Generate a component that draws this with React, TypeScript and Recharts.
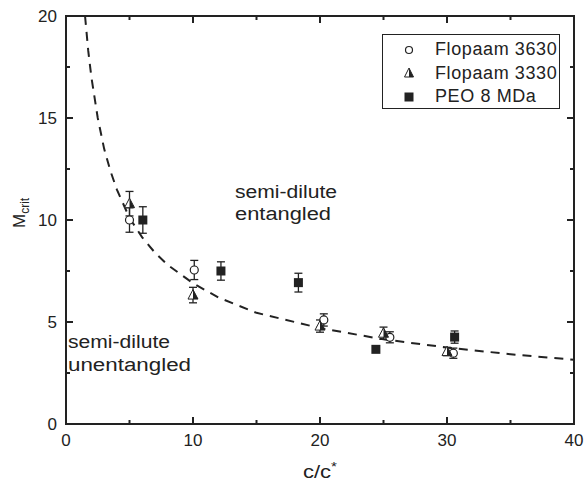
import React from 'react';
import { ComposedChart, Scatter, XAxis, YAxis, ErrorBar } from 'recharts';

const FONT = '"Liberation Sans", Arial, Helvetica, sans-serif';
const INK = '#222';

// dashed power-law fit
const fitX = [1.5, 1.75, 2, 2.5, 3, 3.5, 4, 5, 6, 7, 8, 10, 12, 15, 20, 25, 30, 35, 40];
const fitY = [20, 18.3, 17.0, 15.0, 13.5, 12.4, 11.5, 10.1, 9.15, 8.4, 7.8, 6.9, 6.2, 5.45, 4.7, 4.15, 3.75, 3.42, 3.15];

// Flopaam 3630 (open circles)
const f3630X = [5.0, 10.1, 20.3, 25.5, 30.5];
const f3630Y = [10.0, 7.55, 5.1, 4.25, 3.47];
const f3630Err = [0.6, 0.47, 0.3, 0.27, 0.25];

// Flopaam 3330 (half-filled triangles)
const f3330X = [5.0, 10.0, 20.0, 25.0, 30.0];
const f3330Y = [10.8, 6.32, 4.8, 4.45, 3.55];
const f3330Err = [0.6, 0.38, 0.3, 0.3, 0.2];

// PEO 8 MDa (filled squares)
const peoX = [6.05, 12.2, 18.3, 24.4, 30.6];
const peoY = [10.0, 7.5, 6.93, 3.66, 4.26];
const peoErr = [0.65, 0.45, 0.46, 0, 0.3];

const xTicks = [0, 5, 10, 15, 20, 25, 30, 35, 40];
const yTicks = [0, 2.5, 5, 7.5, 10, 12.5, 15, 17.5, 20];
const seriesNames = ['Flopaam 3630', 'Flopaam 3330', 'PEO 8 MDa'];

const zip = (xs: number[], ys: number[], es?: number[]) =>
  xs.map((x, i) => ({ x, y: ys[i], err: es ? es[i] : 0 }));

const fitData = zip(fitX, fitY);
const d3630 = zip(f3630X, f3630Y, f3630Err);
const d3330 = zip(f3330X, f3330Y, f3330Err);
const dPeo = zip(peoX, peoY, peoErr);

// plot box (must match chart margins + axis sizes below)
const PL = 66, PR = 574, PT = 16, PB = 424;
const px = (v: number) => PL + (v / 40) * (PR - PL);
const py = (v: number) => PB - (v / 20) * (PB - PT);
const xLen = (v: number) => (v % 10 === 0 ? 7 : 4);
const yLen = (v: number) => (v % 5 === 0 ? 7 : 4);

const Circle = ({ cx, cy }: any) => (
  <circle cx={cx} cy={cy} r={4} fill="#fff" stroke={INK} strokeWidth={1.2} />
);
const Tri = ({ cx, cy }: any) => (
  <g>
    <polygon points={`${cx},${cy - 5.5} ${cx - 5},${cy + 4} ${cx + 5},${cy + 4}`} fill="#fff" stroke={INK} strokeWidth={1} />
    <polygon points={`${cx},${cy - 5.5} ${cx + 5},${cy + 4} ${cx},${cy + 4}`} fill={INK} />
  </g>
);
const Square = ({ cx, cy }: any) => <rect x={cx - 4.5} y={cy - 4.5} width={9} height={9} fill={INK} />;
const Nothing = () => <g />;

const BottomTick = ({ x, y, payload }: any) => (
  <text x={x} y={y + 22} textAnchor="middle" fontSize={17} fontFamily={FONT} fill={INK}>
    {payload.value % 10 === 0 ? payload.value : ''}
  </text>
);
const LeftTick = ({ x, y, payload }: any) => (
  <text x={x - 9} y={y} dy="0.36em" textAnchor="end" fontSize={17} fontFamily={FONT} fill={INK}>
    {payload.value % 5 === 0 ? payload.value : ''}
  </text>
);

// frame with inward ticks on all four sides, plus the text labels
const Overlay = () => (
  <svg width={586} height={485} style={{ position: 'absolute', left: 0, top: 0, pointerEvents: 'none' }}>
    <g stroke={INK} strokeWidth={2}>
      <rect x={PL} y={PT} width={PR - PL} height={PB - PT} fill="none" />
      {xTicks.map((v) => (
        <g key={`x${v}`}>
          <line x1={px(v)} x2={px(v)} y1={PB} y2={PB - xLen(v)} />
          <line x1={px(v)} x2={px(v)} y1={PT} y2={PT + xLen(v)} />
        </g>
      ))}
      {yTicks.map((v) => (
        <g key={`y${v}`}>
          <line x1={PL} x2={PL + yLen(v)} y1={py(v)} y2={py(v)} />
          <line x1={PR} x2={PR - yLen(v)} y1={py(v)} y2={py(v)} />
        </g>
      ))}
    </g>
    <g fontFamily={FONT} fill={INK}>
      <text x={235} y={198} fontSize={18} textLength={102} lengthAdjust="spacingAndGlyphs">semi-dilute</text>
      <text x={235} y={220} fontSize={18} textLength={96} lengthAdjust="spacingAndGlyphs">entangled</text>
      <text x={68} y={348} fontSize={18} textLength={102} lengthAdjust="spacingAndGlyphs">semi-dilute</text>
      <text x={68} y={371} fontSize={18} textLength={123} lengthAdjust="spacingAndGlyphs">unentangled</text>
      <text x={303} y={478} fontSize={19} textLength={34} lengthAdjust="spacingAndGlyphs">
        c/c<tspan dy={-7} fontSize={13}>*</tspan>
      </text>
      <text transform="translate(25,228) rotate(-90)" fontSize={17}>
        M<tspan dy={4} fontSize={12}>crit</tspan>
      </text>
    </g>
  </svg>
);

const legendIcons = [
  <circle key="c" cx={10} cy={10} r={3.5} fill="#fff" stroke={INK} strokeWidth={1.2} />,
  <g key="t">
    <polygon points="10,5 5.5,14 14.5,14" fill="#fff" stroke={INK} strokeWidth={1} />
    <polygon points="10,5 14.5,14 10,14" fill={INK} />
  </g>,
  <rect key="s" x={5.5} y={5.5} width={9} height={9} fill={INK} />,
];

const LegendBox = () => (
  <div
    style={{
      position: 'absolute',
      left: 382,
      top: 34,
      width: 178,
      height: 75,
      border: `1px solid ${INK}`,
      background: '#fff',
      boxSizing: 'border-box',
      paddingTop: 3,
      fontFamily: FONT,
      fontSize: 18,
      color: INK,
    }}
  >
    {seriesNames.map((n, i) => (
      <div key={n} style={{ display: 'flex', alignItems: 'center', height: 23.5 }}>
        <svg width={20} height={20} style={{ marginLeft: 16, marginRight: 16 }}>
          {legendIcons[i]}
        </svg>
        <span style={{ letterSpacing: 0.6 }}>{n}</span>
      </div>
    ))}
  </div>
);

export default function App() {
  return (
    <div style={{ position: 'absolute', left: 0, top: 0, width: 586, height: 485 }}>
      <ComposedChart width={586} height={485} margin={{ top: PT, right: 586 - PR, bottom: 0, left: 0 }}>
        <XAxis dataKey="x" type="number" domain={[0, 40]} ticks={xTicks} interval={0} height={485 - PB}
          tickSize={0} tickMargin={0} tickLine={false} tick={<BottomTick />} axisLine={false} />
        <YAxis dataKey="y" type="number" domain={[0, 20]} ticks={yTicks} interval={0} width={PL}
          tickSize={0} tickMargin={0} tickLine={false} tick={<LeftTick />} axisLine={false} />
        <Scatter data={fitData} dataKey="y"
          line={{ stroke: INK, strokeWidth: 2, strokeDasharray: '9 7' }} shape={<Nothing />} isAnimationActive={false} />
        <Scatter name={seriesNames[0]} data={d3630} dataKey="y" shape={<Circle />} isAnimationActive={false}>
          <ErrorBar dataKey="err" direction="y" width={4} stroke={INK} strokeWidth={1.3} />
        </Scatter>
        <Scatter name={seriesNames[1]} data={d3330} dataKey="y" shape={<Tri />} isAnimationActive={false}>
          <ErrorBar dataKey="err" direction="y" width={4} stroke={INK} strokeWidth={1.3} />
        </Scatter>
        <Scatter name={seriesNames[2]} data={dPeo} dataKey="y" shape={<Square />} isAnimationActive={false}>
          <ErrorBar dataKey="err" direction="y" width={4} stroke={INK} strokeWidth={1.3} />
        </Scatter>
      </ComposedChart>
      <Overlay />
      <LegendBox />
    </div>
  );
}
